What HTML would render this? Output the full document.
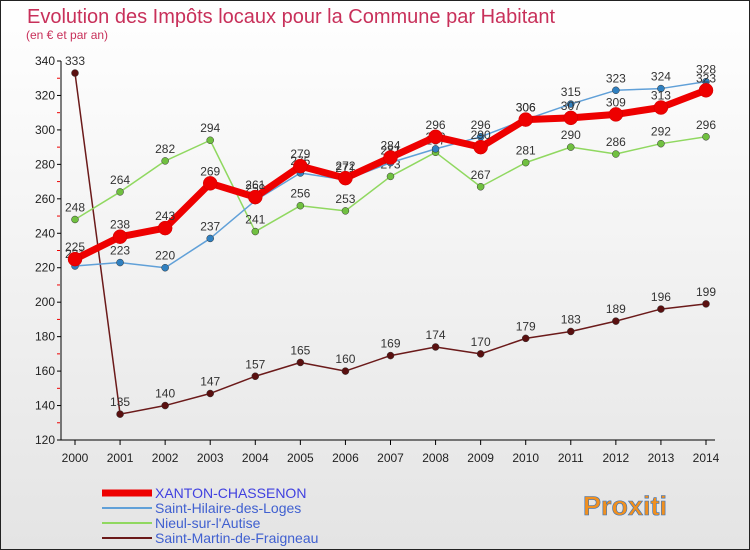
<!DOCTYPE html>
<html><head><meta charset="utf-8"><style>
body{margin:0;width:750px;height:550px;overflow:hidden;font-family:"Liberation Sans",sans-serif}
</style></head><body>
<svg id="chart" width="750" height="550" xmlns="http://www.w3.org/2000/svg" style="display:block">
<defs><linearGradient id="bg" x1="0" y1="0" x2="0" y2="1"><stop offset="0" stop-color="#ffffff"/><stop offset="1" stop-color="#e4e4e4"/></linearGradient></defs>
<rect x="0.5" y="0.5" width="749" height="549" fill="url(#bg)" stroke="#222"/>
<text x="27" y="23" font-size="20" fill="#c8305a">Evolution des Impôts locaux pour la Commune par Habitant</text>
<text x="26" y="39" font-size="12" fill="#c8305a">(en € et par an)</text>
<g id="axes"></g><g id="series"></g><g id="legend"></g>
<text x="583" y="515" font-size="27" font-weight="bold" fill="#f09020" stroke="#3070c0" stroke-width="0.6">Proxiti</text>
</svg>
<script>
const years=[2000,2001,2002,2003,2004,2005,2006,2007,2008,2009,2010,2011,2012,2013,2014];
const xanton=[225,238,243,269,261,279,272,284,296,290,306,307,309,313,323];
const hilaire=[221,223,220,237,259,275,271,281,289,296,306,315,323,324,328];
const nieul=[248,264,282,294,241,256,253,273,287,267,281,290,286,292,296];
const martin=[333,135,140,147,157,165,160,169,174,170,179,183,189,196,199];
const yTicks=[120,140,160,180,200,220,240,260,280,300,320,340];
const NS="http://www.w3.org/2000/svg";
const X=i=>75+i*(706-75)/14, Y=v=>440-(v-120)*(440-61)/220;
function el(t,a,p){const e=document.createElementNS(NS,t);for(const k in a)e.setAttribute(k,a[k]);p.appendChild(e);return e;}
const ax=document.getElementById('axes');
let l=el('line',{x1:61,y1:61,x2:61,y2:440,stroke:'#000'},ax);

l=el('line',{x1:61,y1:440,x2:715,y2:440,stroke:'#000'},ax);

yTicks.forEach(v=>{el('line',{x1:57,x2:61,y1:Y(v),y2:Y(v),stroke:'#000'},ax);
 if(v<340)el('line',{x1:57,x2:60,y1:Y(v+10),y2:Y(v+10),stroke:'#e00'},ax);
 const t=el('text',{x:55,y:Y(v)+4,'font-size':12,'text-anchor':'end',fill:'#222'},ax);t.textContent=v;
 });
years.forEach((y,i)=>{el('line',{x1:X(i),x2:X(i),y1:440,y2:445,stroke:'#000'},ax);
 const t=el('text',{x:X(i),y:462,'font-size':12,'text-anchor':'middle',fill:'#222'},ax);t.textContent=y;
 });
const sg=document.getElementById('series');
const S=[[martin,'#6b1a1a','#5a1010',1.5,3.5,'saint-martin'],[nieul,'#90d860','#70c040',1.5,3.5,'nieul'],[hilaire,'#60a0d8','#3080c0',1.5,3.5,'saint-hilaire'],[xanton,'#ee0000','#ee0000',7,7,'xanton']];
S.forEach(([d,c,mc,w,r,n])=>{const g=el('g',{},sg);
 const p=el('polyline',{points:d.map((v,i)=>X(i)+','+Y(v)).join(' '),fill:'none',stroke:c,'stroke-width':w,'stroke-linejoin':'round'},g);
 
 d.forEach((v,i)=>{const m=el('circle',{cx:X(i),cy:Y(v),r:r,fill:mc,stroke:n=='xanton'?'#c00':'#333','stroke-width':0.5},g);
  
  const t=el('text',{x:X(i),y:Y(v)-8,'font-size':12,'text-anchor':'middle',fill:'#333'},g);t.textContent=v;
  });});
const lg=document.getElementById('legend');
[['XANTON-CHASSENON','#ee0000',7,'#4040e0'],['Saint-Hilaire-des-Loges','#60a0d8',2,'#4060d0'],['Nieul-sur-l\'Autise','#90d860',2,'#4060d0'],['Saint-Martin-de-Fraigneau','#6b1a1a',2,'#4060d0']].forEach(([n,c,w,tc],i)=>{
 const y=493+i*15;const g=el('g',{},lg);
 el('line',{x1:102,x2:152,y1:y,y2:y,stroke:c,'stroke-width':w},g);
 const t=el('text',{x:155,y:y+5,'font-size':14,fill:tc},g);t.textContent=n;});
</script>
</body></html>
